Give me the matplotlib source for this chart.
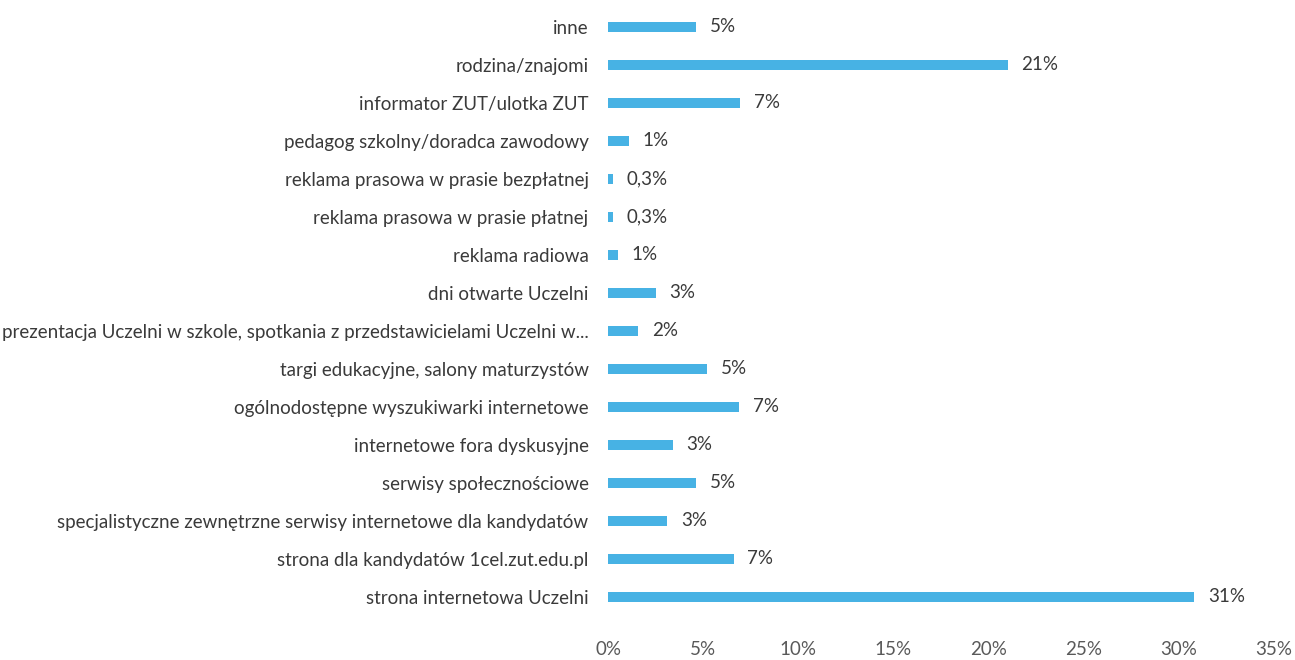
import matplotlib

matplotlib.use("Agg")
import matplotlib.pyplot as plt
from matplotlib.ticker import FuncFormatter

# categories listed bottom -> top
categories = [
    "strona internetowa Uczelni",
    "strona dla kandydatów 1cel.zut.edu.pl",
    "specjalistyczne zewnętrzne serwisy internetowe dla kandydatów",
    "serwisy społecznościowe",
    "internetowe fora dyskusyjne",
    "ogólnodostępne wyszukiwarki internetowe",
    "targi edukacyjne, salony maturzystów",
    "prezentacja Uczelni w szkole, spotkania z przedstawicielami Uczelni w...",
    "dni otwarte Uczelni",
    "reklama radiowa",
    "reklama prasowa w prasie płatnej",
    "reklama prasowa w prasie bezpłatnej",
    "pedagog szkolny/doradca zawodowy",
    "informator ZUT/ulotka ZUT",
    "rodzina/znajomi",
    "inne",
]
values = [30.8, 6.6, 3.1, 4.6, 3.4, 6.9, 5.2, 1.6, 2.5, 0.5, 0.25, 0.25, 1.1, 6.93, 21.0, 4.65]
value_labels = ["31%", "7%", "3%", "5%", "3%", "7%", "5%", "2%", "3%", "1%",
                "0,3%", "0,3%", "1%", "7%", "21%", "5%"]
xticks = [0, 5, 10, 15, 20, 25, 30, 35]

plt.rcParams["font.family"] = ["Lato", "DejaVu Sans"]

fig = plt.figure(figsize=(12.95, 6.6), dpi=100)
ax = fig.add_axes([0.4695, 0.067, 0.5143, 0.921])

y = range(len(categories))
ax.barh(y, values, height=0.27, color="#47b2e4")
for yi, v, lab in zip(y, values, value_labels):
    ax.annotate(lab, (v, yi), xytext=(10, 0), textcoords="offset points",
                ha="left", va="center", fontsize=13.5, color="#3a3a3a")

ax.set_xlim(0, 35)
ax.set_ylim(-0.5, len(categories) - 0.5)
ax.set_xticks(xticks)
ax.xaxis.set_major_formatter(FuncFormatter(lambda v, _: f"{v:.0f}%"))
ax.set_yticks(list(y))
ax.set_yticklabels(categories)
ax.tick_params(axis="y", length=0, pad=14, labelsize=13.5, labelcolor="#3a3a3a")
ax.tick_params(axis="x", length=0, pad=18, labelsize=13.5, labelcolor="#595959")
for s in ax.spines.values():
    s.set_visible(False)

fig.savefig("out.png", dpi=100)
